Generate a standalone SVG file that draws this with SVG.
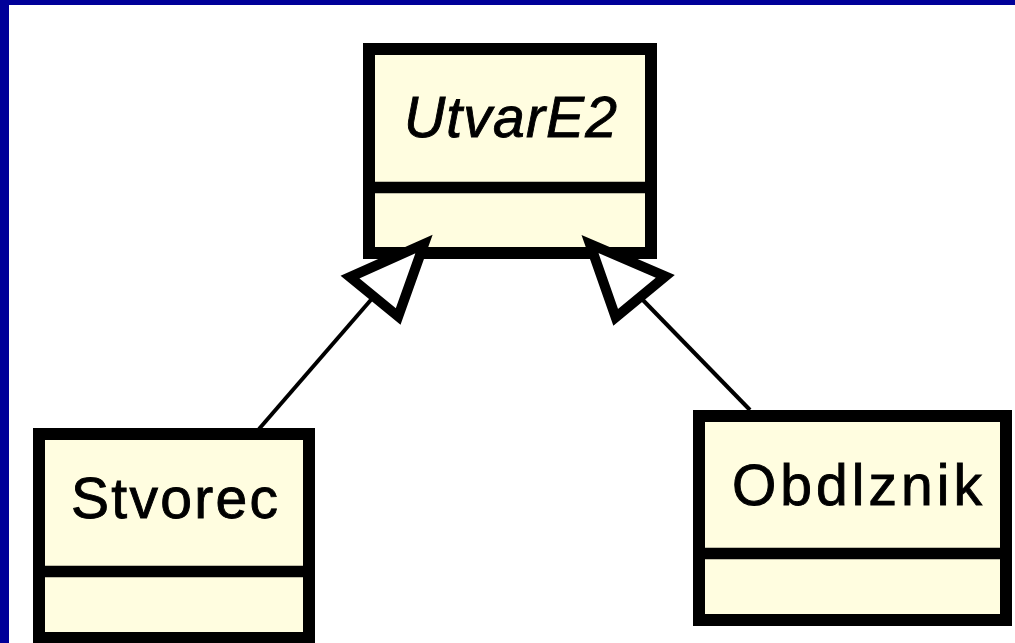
<svg xmlns="http://www.w3.org/2000/svg" width="1015" height="643" viewBox="0 0 1015 643">
  <style>
    .frame { fill: #000099; }
    .box { fill: #FFFDE0; stroke: #000000; stroke-width: 12; }
    .sep { stroke: #000000; stroke-width: 11.5; }
    .name { font-family: "Liberation Sans", Arial, sans-serif; font-size: 57px; fill: #000000; stroke: #000000; stroke-width: 0.9; }
    .abstract { font-style: italic; }
    .edge { stroke: #000000; stroke-width: 4; fill: none; }
    .head { fill: #FFFFFF; stroke: #000000; stroke-width: 10; stroke-linejoin: miter; }
  </style>

  <rect width="1015" height="643" fill="#FFFFFF"/>
  <!-- window frame -->
  <rect class="frame" x="0" y="0" width="9" height="643"/>
  <rect class="frame" x="0" y="0" width="1015" height="5"/>

  <g id="UtvarE2">
    <rect class="box" x="369" y="49" width="282" height="204"/>
    <line class="sep" x1="369" y1="187.5" x2="651" y2="187.5"/>
    <text class="name abstract" x="404" y="137" textLength="213" lengthAdjust="spacing">UtvarE2</text>
  </g>

  <g id="Stvorec">
    <rect class="box" x="39" y="434" width="270" height="204"/>
    <line class="sep" x1="39" y1="571.5" x2="309" y2="571.5"/>
    <text class="name" x="71" y="518" textLength="207" lengthAdjust="spacing">Stvorec</text>
  </g>

  <g id="Obdlznik">
    <rect class="box" x="699" y="416" width="307" height="204"/>
    <line class="sep" x1="699" y1="553.5" x2="1006" y2="553.5"/>
    <text class="name" x="732" y="505" textLength="250" lengthAdjust="spacing">Obdlznik</text>
  </g>

  <!-- generalization connectors with hollow triangle heads -->
  <g id="connectors">
    <line class="edge" x1="259" y1="429" x2="376" y2="294"/>
    <polygon class="head" points="424,244 398.2,316.5 350.0,277.1"/>
    <line class="edge" x1="750" y1="410" x2="638" y2="295"/>
    <polygon class="head" points="590,244 615.7,317.3 665.3,276.3"/>
  </g>
</svg>
